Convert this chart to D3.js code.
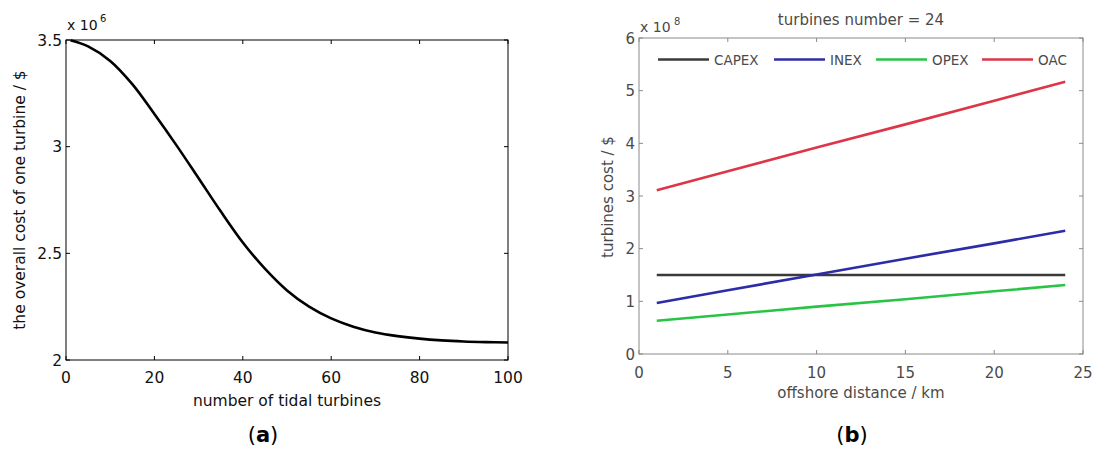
<!DOCTYPE html>
<html><head><meta charset="utf-8">
<script src="https://cdn.jsdelivr.net/npm/d3@7"></script>
<style>
html,body{margin:0;padding:0;background:#fff;}
svg{display:block;}
text{font-family:"DejaVu Sans",sans-serif;}
</style></head>
<body>
<svg id="c" width="1097" height="452"></svg>
<script>
// ---- Data: panel (a) ----
const turbineCounts = [1,5,10,15,20,25,30,35,40,45,50,55,60,65,70,75,80,85,90,95,100];
const costPerTurbine = [3.499,3.470,3.402,3.293,3.153,3.006,2.852,2.697,2.551,2.428,2.326,2.250,2.195,2.156,2.129,2.112,2.100,2.092,2.087,2.084,2.082]; // x 10^6 $
const aXTicks = [0,20,40,60,80,100];
const aYTicks = [2,2.5,3,3.5];

// ---- Data: panel (b) ----
const distances = [1,5,10,15,20,24]; // km
const seriesNames = ["CAPEX","INEX","OPEX","OAC"];
const capex = [1.50,1.50,1.50,1.50,1.50,1.50]; // x 10^8 $
const inex  = [0.97,1.21,1.51,1.81,2.10,2.34];
const opex  = [0.63,0.75,0.90,1.04,1.19,1.31];
const oac   = [3.11,3.47,3.92,4.36,4.81,5.17];
const seriesColors = ["#3a3a3a","#2c2ca8","#28c444","#dc3648"];
const bXTicks = [0,5,10,15,20,25];
const bYTicks = [0,1,2,3,4,5,6];

const svg = d3.select("#c");

function boxAxes(g, x, y, xt, yt, color, tickLen){
  const [x0,x1] = x.range(), [y0,y1] = y.range();
  g.append("rect").attr("x",x0).attr("y",y1).attr("width",x1-x0).attr("height",y0-y1)
    .attr("fill","none").attr("stroke",color).attr("stroke-width",1);
  xt.forEach(t=>{
    g.append("line").attr("x1",x(t)).attr("x2",x(t)).attr("y1",y0).attr("y2",y0-tickLen).attr("stroke",color);
    g.append("line").attr("x1",x(t)).attr("x2",x(t)).attr("y1",y1).attr("y2",y1+tickLen).attr("stroke",color);
  });
  yt.forEach(t=>{
    g.append("line").attr("x1",x0).attr("x2",x0+tickLen).attr("y1",y(t)).attr("y2",y(t)).attr("stroke",color);
    g.append("line").attr("x1",x1).attr("x2",x1-tickLen).attr("y1",y(t)).attr("y2",y(t)).attr("stroke",color);
  });
}

// ================= Panel (a) =================
{
  const g = svg.append("g");
  const x = d3.scaleLinear().domain([0,100]).range([66,508]);
  const y = d3.scaleLinear().domain([2,3.5]).range([360,40]);
  boxAxes(g,x,y,aXTicks,aYTicks,"#000",4);
  const fs = "15.5px";
  g.selectAll(".xt").data(aXTicks).join("text")
    .attr("x",d=>x(d)).attr("y",383).attr("text-anchor","middle")
    .attr("font-size",fs).attr("fill","#111").text(d=>d3.format("")(d));
  g.selectAll(".yt").data(aYTicks).join("text")
    .attr("x",62).attr("y",d=>y(d)+5.5).attr("text-anchor","end")
    .attr("font-size",fs).attr("fill","#111").text(d=>d);
  g.append("text").attr("x",67).attr("y",30).attr("font-size","14px").attr("fill","#111").text("x 10");
  g.append("text").attr("x",100).attr("y",22).attr("font-size","10px").attr("fill","#111").text("6");
  g.append("text").attr("x",(66+508)/2).attr("y",406).attr("text-anchor","middle")
    .attr("font-size",fs).attr("fill","#111").text("number of tidal turbines");
  g.append("text").attr("transform","translate(25,200) rotate(-90)").attr("text-anchor","middle")
    .attr("font-size",fs).attr("fill","#111").text("the overall cost of one turbine / $");
  const line = d3.line().x((d,i)=>x(turbineCounts[i])).y(d=>y(d)).curve(d3.curveCatmullRom.alpha(0.5));
  g.append("path").attr("d",line(costPerTurbine)).attr("fill","none").attr("stroke","#000").attr("stroke-width",2.6);
  const lab = g.append("text").attr("x",263).attr("y",442).attr("text-anchor","middle")
    .attr("font-family","'Liberation Serif',serif").attr("font-size","21px").attr("fill","#000");
  lab.append("tspan").text("(");
  lab.append("tspan").attr("font-weight","bold").text("a");
  lab.append("tspan").text(")");
}

// ================= Panel (b) =================
{
  const g = svg.append("g");
  const x = d3.scaleLinear().domain([0,25]).range([639,1083]);
  const y = d3.scaleLinear().domain([0,6]).range([354,38]);
  const axc = "#8a8a8a", tc = "#4a4a4a";
  boxAxes(g,x,y,bXTicks,bYTicks,axc,4);
  const fs = "15px";
  g.selectAll(".xt").data(bXTicks).join("text")
    .attr("x",d=>x(d)).attr("y",378).attr("text-anchor","middle")
    .attr("font-size",fs).attr("fill",tc).text(d=>d);
  g.selectAll(".yt").data(bYTicks).join("text")
    .attr("x",635).attr("y",d=>y(d)+5.5).attr("text-anchor","end")
    .attr("font-size",fs).attr("fill",tc).text(d=>d);
  g.append("text").attr("x",640).attr("y",32).attr("font-size","14px").attr("fill",tc).text("x 10");
  g.append("text").attr("x",674).attr("y",25).attr("font-size","10px").attr("fill",tc).text("8");
  g.append("text").attr("x",(639+1083)/2).attr("y",25).attr("text-anchor","middle")
    .attr("font-size",fs).attr("fill",tc).text("turbines number = 24");
  g.append("text").attr("x",(639+1083)/2).attr("y",398).attr("text-anchor","middle")
    .attr("font-size",fs).attr("fill",tc).text("offshore distance / km");
  g.append("text").attr("transform","translate(613,197) rotate(-90)").attr("text-anchor","middle")
    .attr("font-size",fs).attr("fill",tc).text("turbines cost / $");
  const allSeries = [capex,inex,opex,oac];
  const line = d3.line().x((d,i)=>x(distances[i])).y(d=>y(d));
  allSeries.forEach((s,k)=>{
    g.append("path").attr("d",line(s)).attr("fill","none").attr("stroke",seriesColors[k]).attr("stroke-width",2.6);
  });
  // legend
  const legX = [658,774,876,982];
  seriesNames.forEach((n,k)=>{
    g.append("line").attr("x1",legX[k]).attr("x2",legX[k]+51).attr("y1",59.5).attr("y2",59.5)
      .attr("stroke",seriesColors[k]).attr("stroke-width",2.6);
    g.append("text").attr("x",legX[k]+56).attr("y",64.5).attr("font-size","13.5px").attr("fill",tc).text(n);
  });
  const lab = g.append("text").attr("x",852).attr("y",442).attr("text-anchor","middle")
    .attr("font-family","'Liberation Serif',serif").attr("font-size","21px").attr("fill","#000");
  lab.append("tspan").text("(");
  lab.append("tspan").attr("font-weight","bold").text("b");
  lab.append("tspan").text(")");
}
</script>
</body></html>
